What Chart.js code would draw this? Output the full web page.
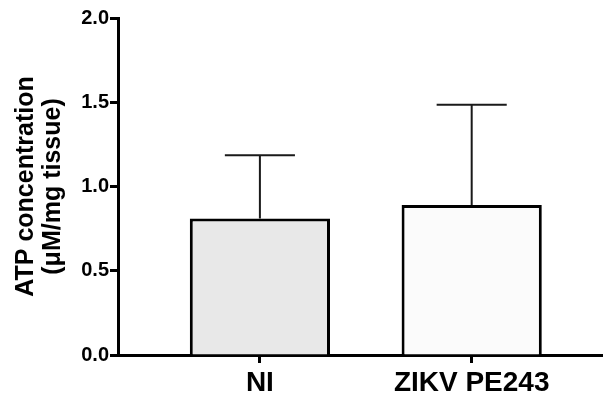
<!DOCTYPE html>
<html>
<head>
<meta charset="utf-8">
<script src="https://cdn.jsdelivr.net/npm/chart.js@4.4.1/dist/chart.umd.min.js"></script>
<style>
  html, body { margin: 0; padding: 0; background: #fff; }
  #wrap { width: 603px; height: 396px; position: relative; }
</style>
</head>
<body>
<div id="wrap"><canvas id="c"></canvas></div>
<script>
// ---- data ----
const categories = ['NI', 'ZIKV PE243'];
const means = [0.81, 0.89];
const sds = [0.375, 0.595];
const barColors = ['#e8e8e8', '#fbfbfb'];
const yTitle = ['ATP concentration', '(\u03bcM/mg tissue)'];
const yMin = 0, yMax = 2, yStep = 0.5;

const FONT = "'Liberation Sans', Arial, Helvetica, sans-serif";

const points = categories.map((c, i) => ({ x: i + 1, y: means[i] }));

const errorBars = {
  id: 'errorBars',
  afterDatasetsDraw(chart) {
    const ctx = chart.ctx;
    const meta = chart.getDatasetMeta(0);
    const ys = chart.scales.y;
    ctx.save();
    ctx.strokeStyle = '#1a1a1a';
    ctx.lineWidth = 2;
    meta.data.forEach((bar, i) => {
      const top = ys.getPixelForValue(means[i] + sds[i]);
      const half = bar.width / 4;
      ctx.beginPath();
      ctx.moveTo(bar.x, bar.y);
      ctx.lineTo(bar.x, top);
      ctx.moveTo(bar.x - half, top);
      ctx.lineTo(bar.x + half, top);
      ctx.stroke();
    });
    ctx.restore();
  }
};

new Chart(document.getElementById('c'), {
  type: 'bar',
  data: {
    datasets: [{
      data: points,
      backgroundColor: barColors,
      borderColor: '#000',
      borderWidth: 3,
      borderSkipped: 'start',
      categoryPercentage: 1,
      barPercentage: 0.662
    }]
  },
  options: {
    responsive: true,
    maintainAspectRatio: false,
    animation: false,
    layout: { padding: { top: 18, right: 0, left: 0, bottom: 0 } },
    plugins: { legend: { display: false }, tooltip: { enabled: false } },
    scales: {
      x: {
        type: 'linear',
        min: 0.33,
        max: 2.62,
        offset: false,
        bounds: 'data',
        z: 1,
        afterBuildTicks(scale) { scale.ticks = categories.map((c, i) => ({ value: i + 1 })); },
        afterFit(scale) { scale.height = 41; },
        border: { display: true, color: '#000', width: 3 },
        grid: { offset: false, drawOnChartArea: false, drawTicks: true, tickLength: 8, tickWidth: 3, tickColor: '#000' },
        ticks: {
          autoSkip: false,
          maxRotation: 0,
          padding: 3,
          color: '#000',
          font: { family: FONT, size: 28, weight: 'bold' },
          callback: (v) => categories[Math.round(v) - 1] || ''
        }
      },
      y: {
        min: yMin,
        max: yMax,
        z: 1,
        afterFit(scale) { scale.width = 118; },
        border: { display: true, color: '#000', width: 3 },
        grid: { drawOnChartArea: false, drawTicks: true, tickLength: 8, tickWidth: 3, tickColor: '#000' },
        ticks: {
          stepSize: yStep,
          padding: 1,
          color: '#000',
          font: { family: FONT, size: 20, weight: 'bold' },
          callback: (v) => Number(v).toFixed(1)
        },
        title: {
          display: true,
          text: yTitle,
          color: '#000',
          font: { family: FONT, size: 25, weight: 'bold', lineHeight: 1.1 },
          padding: { top: 12, bottom: 0 }
        }
      }
    }
  },
  plugins: [errorBars]
});
</script>
</body>
</html>
